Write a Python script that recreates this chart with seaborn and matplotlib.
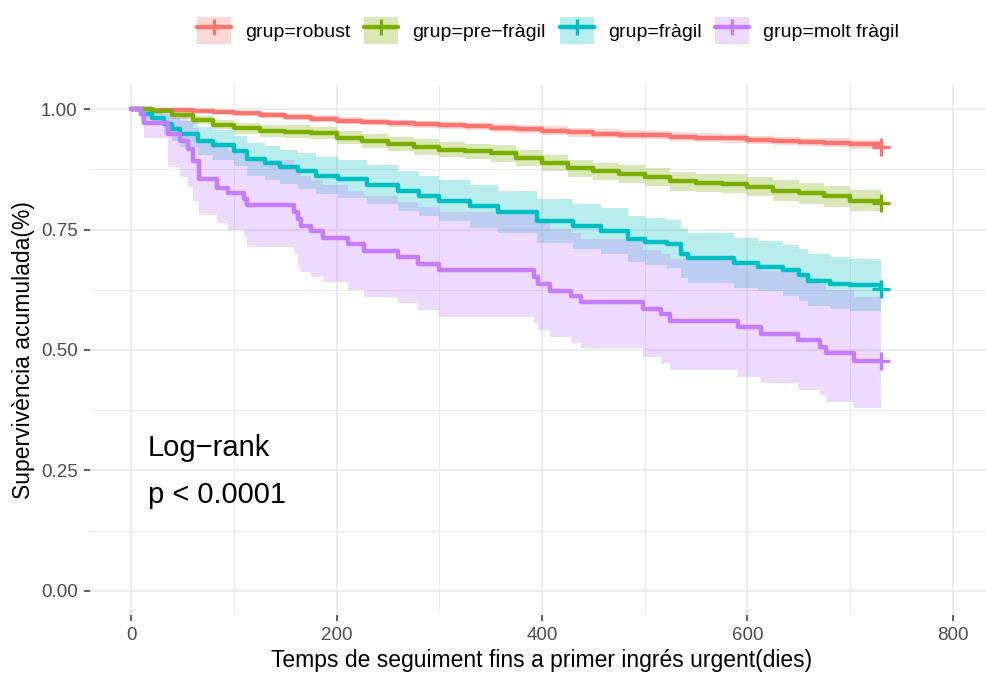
import numpy as np
import pandas as pd
import matplotlib
matplotlib.use("Agg")
import matplotlib.pyplot as plt
from matplotlib.patches import Patch
from matplotlib.lines import Line2D
from matplotlib.ticker import MultipleLocator
import seaborn as sns

# ----------------- data -----------------
groups = ["robust", "pre−fràgil", "fràgil", "molt fràgil"]
colors = ["#F8766D", "#7CAE00", "#00BFC4", "#C77CFF"]

t_robust = [0, 20, 40, 60, 80, 100, 125, 150, 175, 200, 225, 250, 275, 300, 325, 350,
            375, 400, 425, 450, 475, 500, 525, 550, 575, 600, 625, 650, 675, 700, 730]
s_robust = [1.000, 0.999, 0.998, 0.996, 0.994, 0.992, 0.988, 0.984, 0.980, 0.976, 0.973,
            0.971, 0.969, 0.967, 0.964, 0.961, 0.958, 0.955, 0.952, 0.949, 0.947, 0.946,
            0.943, 0.941, 0.939, 0.936, 0.934, 0.932, 0.930, 0.927, 0.922]
hi_robust = [1.000, 1.000, 1.000, 0.999, 0.998, 0.997, 0.994, 0.990, 0.987, 0.983, 0.980,
             0.978, 0.976, 0.974, 0.972, 0.969, 0.966, 0.964, 0.961, 0.958, 0.956, 0.955,
             0.952, 0.950, 0.948, 0.945, 0.943, 0.941, 0.939, 0.936, 0.931]
lo_robust = [1.000, 0.997, 0.995, 0.992, 0.989, 0.986, 0.982, 0.977, 0.973, 0.969, 0.966,
             0.963, 0.961, 0.959, 0.956, 0.953, 0.950, 0.946, 0.943, 0.940, 0.938, 0.937,
             0.934, 0.932, 0.930, 0.927, 0.925, 0.923, 0.921, 0.918, 0.913]

t_pre = t_robust
s_pre = [1.000, 0.996, 0.987, 0.978, 0.968, 0.960, 0.955, 0.953, 0.950, 0.941, 0.934,
         0.927, 0.921, 0.916, 0.912, 0.908, 0.899, 0.888, 0.877, 0.871, 0.866, 0.860,
         0.850, 0.847, 0.845, 0.839, 0.831, 0.825, 0.819, 0.810, 0.806]
hi_pre = [1.000, 0.999, 0.993, 0.986, 0.978, 0.971, 0.967, 0.966, 0.963, 0.955, 0.949,
          0.942, 0.937, 0.932, 0.928, 0.925, 0.916, 0.905, 0.894, 0.889, 0.884, 0.878,
          0.869, 0.866, 0.865, 0.859, 0.852, 0.846, 0.841, 0.832, 0.829]
lo_pre = [1.000, 0.992, 0.980, 0.969, 0.958, 0.949, 0.943, 0.940, 0.937, 0.927, 0.919,
          0.912, 0.905, 0.900, 0.896, 0.891, 0.882, 0.871, 0.859, 0.853, 0.847, 0.841,
          0.831, 0.828, 0.825, 0.819, 0.810, 0.804, 0.797, 0.788, 0.784]

t_fragil = [0, 10, 20, 32, 40, 48, 65, 80, 100, 113, 130, 145, 162, 180, 201, 230, 260,
            280, 300, 330, 357, 395, 430, 457, 484, 500, 522, 535, 542, 587, 610, 635,
            650, 659, 680, 700, 730]
s_fragil = [1.000, 0.990, 0.982, 0.969, 0.958, 0.948, 0.934, 0.925, 0.913, 0.896, 0.888,
            0.880, 0.872, 0.862, 0.855, 0.843, 0.830, 0.820, 0.810, 0.798, 0.786, 0.768,
            0.757, 0.747, 0.730, 0.725, 0.720, 0.700, 0.690, 0.680, 0.673, 0.665, 0.655,
            0.644, 0.638, 0.634, 0.627]
hi_fragil = [1.000, 1.000, 0.998, 0.990, 0.982, 0.975, 0.963, 0.956, 0.945, 0.930, 0.923,
             0.916, 0.909, 0.900, 0.894, 0.883, 0.871, 0.862, 0.853, 0.842, 0.831, 0.814,
             0.804, 0.795, 0.779, 0.774, 0.770, 0.751, 0.742, 0.732, 0.726, 0.718, 0.709,
             0.699, 0.693, 0.689, 0.682]
lo_fragil = [1.000, 0.980, 0.966, 0.948, 0.934, 0.921, 0.905, 0.894, 0.881, 0.862, 0.853,
             0.844, 0.835, 0.824, 0.816, 0.803, 0.789, 0.778, 0.767, 0.754, 0.742, 0.722,
             0.710, 0.700, 0.682, 0.677, 0.671, 0.650, 0.640, 0.629, 0.622, 0.613, 0.602,
             0.591, 0.585, 0.581, 0.577]

t_molt = [0, 10, 13, 36, 48, 55, 60, 66, 84, 94, 110, 113, 159, 162, 165, 175, 187, 211,
          227, 260, 279, 300, 392, 396, 408, 428, 438, 498, 516, 525, 591, 613, 649, 671,
          676, 704, 730]
s_molt = [1.000, 0.989, 0.972, 0.948, 0.934, 0.917, 0.892, 0.855, 0.837, 0.826, 0.813,
          0.800, 0.786, 0.772, 0.758, 0.747, 0.733, 0.720, 0.706, 0.692, 0.679, 0.665,
          0.651, 0.637, 0.623, 0.613, 0.599, 0.585, 0.575, 0.561, 0.547, 0.534, 0.520,
          0.506, 0.493, 0.478, 0.478]
hi_molt = [1.000, 1.000, 1.000, 0.990, 0.985, 0.975, 0.960, 0.935, 0.922, 0.914, 0.904,
           0.895, 0.884, 0.873, 0.862, 0.853, 0.842, 0.831, 0.820, 0.808, 0.797, 0.786,
           0.774, 0.763, 0.751, 0.742, 0.730, 0.708, 0.699, 0.688, 0.675, 0.663, 0.650,
           0.638, 0.625, 0.611, 0.611]
lo_molt = [1.000, 0.970, 0.940, 0.880, 0.860, 0.839, 0.810, 0.780, 0.763, 0.749, 0.735,
           0.714, 0.700, 0.673, 0.662, 0.652, 0.642, 0.625, 0.611, 0.597, 0.583, 0.569,
           0.555, 0.541, 0.527, 0.514, 0.504, 0.486, 0.473, 0.459, 0.445, 0.432, 0.418,
           0.407, 0.393, 0.379, 0.379]

x_ticks = [0, 200, 400, 600, 800]
y_ticks = [0.00, 0.25, 0.50, 0.75, 1.00]

curves = [
    (t_robust, s_robust, lo_robust, hi_robust),
    (t_pre, s_pre, lo_pre, hi_pre),
    (t_fragil, s_fragil, lo_fragil, hi_fragil),
    (t_molt, s_molt, lo_molt, hi_molt),
]

rows = []
for g, (t, s, lo, hi) in zip(groups, curves):
    for ti, si, l, h in zip(t, s, lo, hi):
        rows.append({"temps": ti, "surv": si, "lo": l, "hi": h, "grup": "grup=" + g})
df = pd.DataFrame(rows)
labels = ["grup=" + g for g in groups]

# ----------------- plot -----------------
sns.set_theme(style="whitegrid")
plt.rcParams["font.family"] = ["Liberation Sans", "DejaVu Sans"]
plt.rcParams["text.color"] = "black"
plt.rcParams["axes.labelcolor"] = "black"

fig = plt.figure(figsize=(9.86, 6.73), dpi=100)
ax = fig.add_axes([90 / 986, 1 - 615 / 673, (994 - 90) / 986, 530 / 673])

# confidence bands
for lab, c in zip(labels, colors):
    d = df[df["grup"] == lab]
    ax.fill_between(d["temps"], d["lo"], d["hi"], step="post", color=c, alpha=0.28, linewidth=0)

# survival curves
sns.lineplot(data=df, x="temps", y="surv", hue="grup", hue_order=labels, palette=colors,
             estimator=None, drawstyle="steps-post", linewidth=3.2, legend=False, ax=ax)

# censor marks at end of follow-up
ends = df.groupby("grup", sort=False).tail(1)
sns.scatterplot(data=ends, x="temps", y="surv", hue="grup", hue_order=labels, palette=colors,
                marker="+", s=170, linewidth=2.3, legend=False, ax=ax, zorder=5)

ax.text(16, 0.297, "Log−rank", fontsize=21, va="center", ha="left", color="black")
ax.text(16, 0.199, "p < 0.0001", fontsize=21, va="center", ha="left", color="black")

ax.set_xlim(-40, 840)
ax.set_ylim(-0.05, 1.05)
ax.set_xticks(x_ticks)
ax.set_yticks(y_ticks)
ax.set_yticklabels([f"{v:.2f}" for v in y_ticks])
ax.xaxis.set_minor_locator(MultipleLocator(100))
ax.yaxis.set_minor_locator(MultipleLocator(0.125))
ax.grid(which="major", color="#ebebeb", linewidth=1.3)
ax.grid(which="minor", color="#ebebeb", linewidth=0.7)
ax.set_facecolor("white")
for sp in ax.spines.values():
    sp.set_visible(False)
ax.tick_params(which="major", length=4.5, width=1.1, color="#333333", labelsize=13.5,
               labelcolor="#4d4d4d", pad=4.5, bottom=True, left=True)
ax.tick_params(which="minor", length=0)

ax.set_xlabel("Temps de seguiment fins a primer ingrés urgent(dies)", fontsize=16.5, labelpad=3)
ax.set_ylabel("Supervivència acumulada(%)", fontsize=16.5, labelpad=4)

handles = [(Patch(facecolor=c, alpha=0.28, edgecolor="none"),
            Line2D([], [], color=c, linewidth=3.2, marker="+", markersize=12, markeredgewidth=2.3))
           for c in colors]
fig.legend(handles, labels, loc="center", bbox_to_anchor=(548 / 986, 1 - 30.5 / 673), ncol=4,
           frameon=False, fontsize=14, handlelength=1.75, handleheight=1.75,
           handletextpad=0.72, columnspacing=0.72, labelcolor="black")

fig.savefig("out.png", dpi=100)
